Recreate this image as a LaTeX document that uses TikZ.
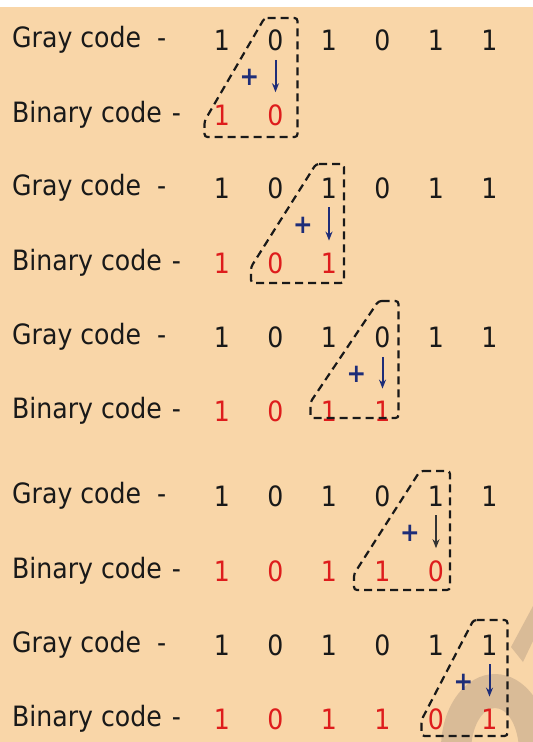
\documentclass[tikz,border=0pt]{standalone}
\usepackage{fontspec}
\setmainfont{DejaVu Sans Condensed}
\usetikzlibrary{arrows.meta}
\definecolor{bgpeach}{RGB}{249,214,168}
\definecolor{digred}{RGB}{222,28,28}
\definecolor{navy}{RGB}{30,45,120}
\definecolor{wmark}{RGB}{196,170,140}
\tikzset{
  txt/.style={inner sep=0pt, font=\fontsize{28}{30}\selectfont, text=black!90},
  lbl/.style={txt, anchor=west},
  gd/.style={txt, anchor=center},
  bd/.style={txt, anchor=center, text=digred},
  plus/.style={txt, text=navy, font=\fontsize{26}{28}\selectfont\bfseries},
  darr/.style={-{Stealth[length=9pt,width=7pt]}, line width=2pt, draw=navy, shorten <=9pt, shorten >=12pt},
  dbox/.style={draw=black!90, line width=2.2pt, dash pattern=on 8pt off 5pt, rounded corners=3pt}
}
\begin{document}
\begin{tikzpicture}[x=1pt,y=-1pt]
\fill[bgpeach] (0,0) rectangle (533,742);
\fill[white] (0,0) rectangle (533,7);
% faint watermark
\begin{scope}
\clip (0,0) rectangle (533,742);
\fill[wmark, opacity=0.6] (511,647) -- (533,606) -- (533,641) -- (523,662) -- cycle;
\fill[wmark, opacity=0.6, even odd rule] (495,748) ellipse [x radius=54, y radius=74] (495,752) ellipse [x radius=24, y radius=44];
\end{scope}
\useasboundingbox (0,0) rectangle (533,742);
\foreach \p/\gy/\by/\tl/\rr/\bl/\tp/\bt/\ar in {
   1/40/115/-11/22/-71/-22/22/navy,
   2/188/263/-13/15/-78/-24/20/navy,
   3/337/411/-4/16/-72/-36/7/navy,
   4/496/571/-16/14/-82/-25/19/black!80,
   5/645/719/-16/18/-68/-25/17/navy} {
  \node[lbl] (gl\p) at (12,\gy) {Gray code\hspace{16pt}-};
  \node[lbl] (bl\p) at (12,\by) {Binary code\hspace{10pt}-};
  \foreach \d [count=\i from 0] in {1,0,1,0,1,1} {
    \node[gd] (g\p-\i) at ({222+53.5*\i},\gy) {\d};
  }
  \foreach \d [count=\i from 0] in {1,0,1,1,0,1} {
    \ifnum\i>\p\relax\else
      \node[bd] (b\p-\i) at ({222+53.5*\i},\by) {\d};
    \fi
  }
  \pgfmathsetmacro\xc{222+53.5*\p}
  \coordinate (tl\p) at (\xc+\tl,\gy+\tp);
  \coordinate (tr\p) at (\xc+\rr,\gy+\tp);
  \coordinate (br\p) at (\xc+\rr,\by+\bt);
  \coordinate (bo\p) at (\xc+\bl,\by+\bt);
  \coordinate (ll\p) at (\xc+\bl,\by+\bt-16);
  \draw[dbox] (tl\p) -- (tr\p) -- (br\p) -- (bo\p) -- (ll\p) -- cycle;
  \node[plus] (pl\p) at (\xc-26,\gy+37) {+};
  \draw[darr, draw=\ar, fill=\ar] (g\p-\p) -- (b\p-\p);
}
\end{tikzpicture}
\end{document}
